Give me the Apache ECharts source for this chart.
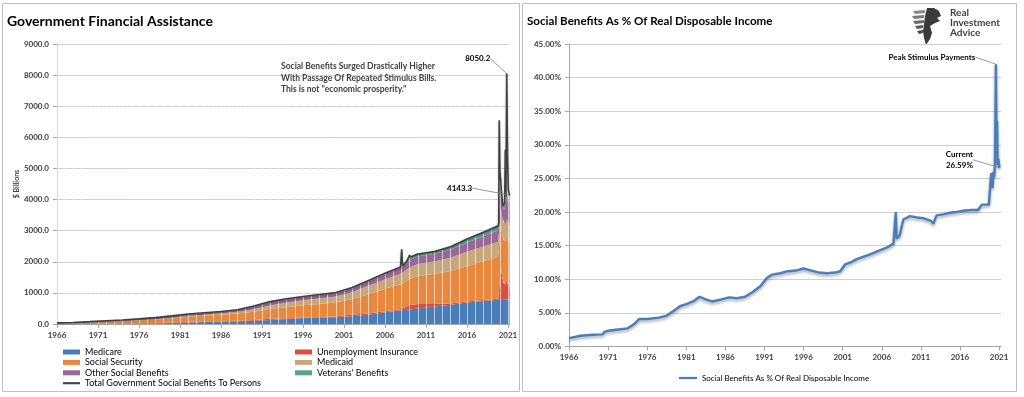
<!DOCTYPE html>
<html>
<head>
<meta charset="utf-8">
<script src="https://cdn.jsdelivr.net/npm/echarts@6/dist/echarts.min.js"></script>
<style>
html, body { margin: 0; padding: 0; background: #fff; }
#main { width: 1024px; height: 397px; }
</style>
</head>
<body>
<div id="main"></div>
<script>
// left panel: components of government social benefits ($ billions), years
const stackYears = [1966, 1968, 1970, 1972, 1974, 1976, 1978, 1980, 1982, 1984, 1986, 1988, 1990, 1992, 1994, 1996, 1998, 2000, 2002, 2004, 2006, 2008, 2009, 2010, 2012, 2014, 2016, 2018, 2019.8, 2019.94, 2020.12, 2020.32, 2020.52, 2020.68, 2020.85, 2021.02, 2021.2];
const medicare = [1, 5, 7, 9, 13, 18, 25, 34, 50, 63, 75, 90, 108, 130, 160, 190, 205, 220, 250, 300, 380, 440, 470, 500, 560, 620, 690, 740, 780, 770, 775, 775, 780, 785, 790, 795, 795];
const unemployment = [2, 2, 4, 6, 8, 18, 11, 18, 25, 15, 16, 14, 18, 38, 22, 22, 20, 21, 52, 40, 32, 45, 130, 140, 85, 40, 35, 30, 30, 400, 1100, 700, 500, 450, 600, 450, 350];
const socialSecurity = [22, 27, 35, 48, 62, 78, 98, 125, 160, 185, 210, 235, 270, 320, 360, 390, 420, 450, 500, 620, 720, 800, 850, 900, 960, 1040, 1130, 1250, 1350, 1370, 1375, 1380, 1385, 1390, 1400, 1410, 1420];
const medicaid = [1, 4, 6, 8, 11, 15, 20, 25, 32, 38, 45, 55, 75, 110, 140, 160, 175, 190, 220, 270, 300, 340, 370, 390, 400, 430, 470, 470, 480, 500, 520, 540, 560, 570, 580, 600, 610];
const otherBenefits = [5, 8, 18, 28, 29, 28, 42, 48, 42, 47, 41, 52, 93, 105, 110, 100, 105, 105, 120, 140, 165, 190, 230, 240, 245, 260, 290, 330, 370, 500, 560, 420, 450, 600, 700, 600, 820];
const veterans = [4, 4, 5, 6, 7, 8, 9, 10, 11, 12, 13, 14, 16, 17, 18, 20, 23, 24, 28, 30, 38, 45, 60, 70, 80, 90, 110, 125, 140, 140, 140, 142, 142, 143, 145, 145, 148];

const totalYears = [1966, 1968, 1970, 1972, 1974, 1976, 1978, 1980, 1982, 1984, 1986, 1988, 1990, 1992, 1994, 1996, 1998, 2000, 2002, 2004, 2006, 2007.9, 2008.04, 2008.15, 2008.6, 2008.9, 2009, 2009.1, 2010, 2012, 2014, 2016, 2018, 2019.8, 2019.87, 2019.94, 2020.02, 2020.12, 2020.22, 2020.32, 2020.42, 2020.52, 2020.6, 2020.68, 2020.76, 2020.85, 2020.95, 2021.05, 2021.2];
const totalBenefits = [35, 50, 75, 105, 130, 165, 205, 260, 320, 360, 400, 460, 580, 720, 810, 882, 948, 1010, 1170, 1400, 1635, 1830, 2400, 1870, 2000, 2150, 2220, 2150, 2250, 2330, 2480, 2730, 2950, 3160, 3250, 6550, 4900, 4600, 4200, 3950, 3800, 3850, 3900, 5600, 4100, 8050.2, 5400, 4300, 4143.3];

// right panel: social benefits as % of real disposable income
const pctYears = [1966.0, 1967.5, 1969.0, 1970.3, 1970.5, 1971.0, 1972.0, 1973.5, 1974.3, 1975.0, 1976.0, 1977.5, 1978.5, 1979.5, 1980.2, 1981.0, 1982.0, 1982.7, 1983.5, 1984.3, 1985.5, 1986.5, 1987.5, 1988.5, 1989.5, 1990.5, 1991.3, 1992.0, 1993.0, 1994.0, 1995.0, 1996.0, 1997.0, 1998.0, 1999.0, 2000.0, 2000.7, 2001.3, 2002.0, 2002.8, 2003.5, 2004.5, 2005.5, 2006.6, 2007.5, 2007.75, 2007.8, 2007.9, 2008.3, 2008.75, 2009.0, 2009.6, 2010.5, 2011.3, 2012.3, 2012.6, 2013.0, 2014.0, 2014.7, 2015.5, 2016.4, 2017.5, 2018.3, 2018.8, 2019.7, 2019.95, 2020.0, 2020.1, 2020.18, 2020.28, 2020.38, 2020.48, 2020.6, 2020.68, 2020.75, 2020.82, 2020.9, 2021.05];
const pctValues = [1.25, 1.6, 1.75, 1.8, 2.15, 2.35, 2.5, 2.7, 3.3, 4.1, 4.1, 4.3, 4.6, 5.4, 6.0, 6.3, 6.8, 7.4, 7.0, 6.7, 7.0, 7.3, 7.2, 7.4, 8.1, 9.0, 10.2, 10.7, 10.9, 11.2, 11.3, 11.6, 11.3, 11.0, 10.9, 11.0, 11.2, 12.2, 12.5, 13.0, 13.3, 13.7, 14.2, 14.7, 15.3, 15.5, 20.0, 16.1, 16.5, 18.9, 19.0, 19.4, 19.2, 19.1, 18.7, 18.3, 19.5, 19.7, 19.9, 20.0, 20.2, 20.3, 20.3, 21.1, 21.1, 21.3, 25.8, 25.5, 23.6, 26.0, 25.2, 27.0, 42.0, 30.0, 33.5, 27.0, 28.0, 26.59];

const firstYear = 1966;
const font = 'Lato';
const txt = '#404040';
const lineIcon = 'path://M0,0 L24,0 L24,3 L0,3 Z';

function pairs(xs, ys) {
    return xs.map((x, i) => [x - firstYear, ys[i]]);
}

const stackDefs = [
    ['Medicare', medicare, '#4a7ebb'],
    ['Unemployment Insurance', unemployment, '#d9503f'],
    ['Social Security', socialSecurity, '#e8883f'],
    ['Medicaid', medicaid, '#c9a77c'],
    ['Other Social Benefits', otherBenefits, '#9a6796'],
    ["Veterans' Benefits", veterans, '#5aa28f']
];

// value column first so the stack runs on y, not on the year axis
let series = stackDefs.map(d => ({
    name: d[0],
    type: 'line',
    stack: 'benefits',
    data: stackYears.map((y, i) => [d[1][i], y - firstYear]),
    encode: { x: 1, y: 0 },
    symbol: 'none',
    lineStyle: { width: 0 },
    areaStyle: { color: d[2], opacity: 1 },
    itemStyle: { color: d[2] },
    z: 2
}));

function marked(p, labelText) {
    return { value: p, symbol: 'circle', symbolSize: 1, label: { show: true, formatter: labelText } };
}

let totalData = pairs(totalYears, totalBenefits);
let totPeak = totalBenefits.indexOf(Math.max(...totalBenefits));
let totLast = totalBenefits.length - 1;
totalData = totalData.map((p, i) => (i === totPeak || i === totLast) ? marked(p, totalBenefits[i].toFixed(1)) : p);

series.push({
    name: 'Total Government Social Benefits To Persons',
    type: 'line',
    data: totalData,
    symbol: 'none',
    lineStyle: { color: '#404040', width: 1.6, shadowColor: 'rgba(0,0,0,0.3)', shadowBlur: 2, shadowOffsetY: 1 },
    itemStyle: { color: '#404040' },
    z: 5,
    label: { position: 'inside', fontFamily: font, fontWeight: 'bold', fontSize: 8, color: '#000' },
    labelLine: { show: true, lineStyle: { color: '#7f7f7f', width: 0.8 } },
    labelLayout: function (p) {
        if (p.dataIndex === totPeak) return { dx: -29, dy: -15 };
        if (p.dataIndex === totLast) return { dx: -50, dy: -7 };
    }
});

let pctData = pairs(pctYears, pctValues);
let pctPeak = pctValues.indexOf(Math.max(...pctValues));
let pctLast = pctValues.length - 1;
pctData = pctData.map((p, i) => {
    if (i === pctPeak) return marked(p, 'Peak Stimulus Payments');
    if (i === pctLast) return marked(p, 'Current\n' + pctValues[i].toFixed(2) + '%');
    return p;
});

series.push({
    name: 'Social Benefits As % Of Real Disposable Income',
    type: 'line',
    xAxisIndex: 1,
    yAxisIndex: 1,
    data: pctData,
    symbol: 'none',
    lineStyle: { color: '#4a7ebb', width: 2.4, shadowColor: 'rgba(0,0,0,0.35)', shadowBlur: 3, shadowOffsetY: 2 },
    itemStyle: { color: '#4a7ebb' },
    z: 5,
    label: { position: 'inside', fontFamily: font, fontWeight: 'bold', fontSize: 8, color: '#000', align: 'center', lineHeight: 11 },
    labelLine: { show: true, lineStyle: { color: '#7f7f7f', width: 0.8 } },
    labelLayout: function (p) {
        if (p.dataIndex === pctPeak) return { dx: -64, dy: -7 };
        if (p.dataIndex === pctLast) return { dx: -40, dy: -8 };
    }
});

function yearAxis(grid) {
    return {
        type: 'value', gridIndex: grid, min: 0, max: 55.25, interval: 5,
        axisLine: { lineStyle: { color: '#a6a6a6' } },
        axisTick: { show: true, length: 4, lineStyle: { color: '#a6a6a6' } },
        splitLine: { show: false },
        axisLabel: {
            showMaxLabel: false, margin: 7,
            fontFamily: font, fontWeight: 'bold', fontSize: 8, color: txt,
            formatter: v => (v % 5 === 0 ? String(firstYear + v) : '')
        }
    };
}

const legendText = { fontFamily: font, fontSize: 9, lineHeight: 10, color: '#000' };

const option = {
    animation: false,
    title: [
        { text: 'Government Financial Assistance', left: 2, top: 9, textStyle: { fontFamily: font, fontWeight: 'bold', fontSize: 14, color: '#000' } },
        { text: 'Social Benefits As % Of Real Disposable Income', left: 522, top: 10, textStyle: { fontFamily: font, fontWeight: 'bold', fontSize: 11.6, color: '#000' } }
    ],
    grid: [
        { left: 57, right: 514, top: 44, bottom: 73 },
        { left: 569, right: 23, top: 44, bottom: 50.5 }
    ],
    xAxis: [
        yearAxis(0),
        yearAxis(1),
        {
            type: 'value', gridIndex: 0, min: 0, max: 55.25, interval: 1, z: 3,
            axisLine: { show: false }, axisTick: { show: false }, axisLabel: { show: false },
            splitLine: { show: true, lineStyle: { color: 'rgba(255,255,255,0.6)', width: 1 } }
        }
    ],
    yAxis: [
        {
            type: 'value', gridIndex: 0, min: 0, max: 9000, interval: 1000,
            name: '$ Billions', nameLocation: 'middle', nameGap: 37, nameRotate: 90,
            nameTextStyle: { fontFamily: font, fontWeight: 'bold', fontSize: 7, color: txt },
            axisLine: { show: true, lineStyle: { color: '#a6a6a6' } },
            axisTick: { show: true, length: 4, lineStyle: { color: '#a6a6a6' } },
            splitLine: { lineStyle: { color: '#d0d0d0' } },
            axisLabel: { margin: 8, fontFamily: font, fontWeight: 'bold', fontSize: 8, color: txt, formatter: v => v.toFixed(1) }
        },
        {
            type: 'value', gridIndex: 1, min: 0, max: 45, interval: 5,
            axisLine: { show: true, lineStyle: { color: '#a6a6a6' } },
            axisTick: { show: true, length: 4, lineStyle: { color: '#a6a6a6' } },
            splitLine: { lineStyle: { color: '#d0d0d0' } },
            axisLabel: { margin: 8, fontFamily: font, fontWeight: 'bold', fontSize: 8, color: txt, formatter: v => v.toFixed(2) + '%' }
        }
    ],
    legend: [
        {
            left: 63, top: 347, padding: 0, orient: 'vertical', itemWidth: 17, itemHeight: 5, itemGap: 0.4,
            textStyle: legendText,
            data: [
                { name: 'Medicare', icon: 'rect' },
                { name: 'Social Security', icon: 'rect' },
                { name: 'Other Social Benefits', icon: 'rect' },
                { name: 'Total Government Social Benefits To Persons', icon: lineIcon }
            ]
        },
        {
            left: 295, top: 347, padding: 0, orient: 'vertical', itemWidth: 17, itemHeight: 5, itemGap: 0.4,
            textStyle: legendText,
            data: [
                { name: 'Unemployment Insurance', icon: 'rect' },
                { name: 'Medicaid', icon: 'rect' },
                { name: "Veterans' Benefits", icon: 'rect' }
            ]
        },
        {
            left: 679, top: 373, padding: 0, itemWidth: 18, itemHeight: 6,
            textStyle: { fontFamily: font, fontSize: 8, lineHeight: 10, color: '#000' },
            data: [{ name: 'Social Benefits As % Of Real Disposable Income', icon: lineIcon }]
        }
    ],
    graphic: [
        { type: 'rect', shape: { x: 2.5, y: 3.5, width: 517, height: 388 }, style: { fill: 'none', stroke: '#bfbfbf', lineWidth: 1 }, z: -1 },
        { type: 'rect', shape: { x: 522.5, y: 3.5, width: 494, height: 388 }, style: { fill: 'none', stroke: '#bfbfbf', lineWidth: 1 }, z: -1 },
        {
            type: 'text', x: 281, y: 61, z: 20,
            style: {
                text: 'Social Benefits Surged Drastically Higher\nWith Passage Of Repeated Stimulus Bills.\nThis is not "economic prosperity."',
                font: 'bold 8.5px Lato', fill: txt, lineHeight: 11.5
            }
        },
        {
            type: 'group', x: 912, y: 7,
            children: [
                { type: 'polygon', shape: { points: [[15, 1], [22, 1], [27, 4], [29, 9], [25, 11], [28, 14], [23, 16], [18, 19], [20, 26], [18, 32], [14, 38], [12, 31], [11, 24], [12, 17], [13, 9]] },
                  style: { fill: '#3a3a3a' } },
                { type: 'polygon', shape: { points: [[1, 4], [13, 3], [13, 6], [3, 7]] }, style: { fill: '#8a8a8a' } },
                { type: 'polygon', shape: { points: [[0, 9], [12, 8], [12, 11], [2, 12]] }, style: { fill: '#7a7a7a' } },
                { type: 'polygon', shape: { points: [[1, 14], [12, 13], [12, 16], [3, 17]] }, style: { fill: '#6a6a6a' } },
                { type: 'polygon', shape: { points: [[3, 19], [11, 18], [11, 21], [5, 22]] }, style: { fill: '#5a5a5a' } },
                { type: 'polygon', shape: { points: [[5, 24], [11, 23], [11, 26], [7, 27]] }, style: { fill: '#4a4a4a' } }
            ]
        },
        {
            type: 'text', x: 950, y: 8,
            style: { text: 'Real\nInvestment\nAdvice', font: 'bold 10px Lato', fill: txt, lineHeight: 10 }
        }
    ],
    series: series
};

const chart = echarts.init(document.getElementById('main'));
chart.setOption(option);
</script>
</body>
</html>
